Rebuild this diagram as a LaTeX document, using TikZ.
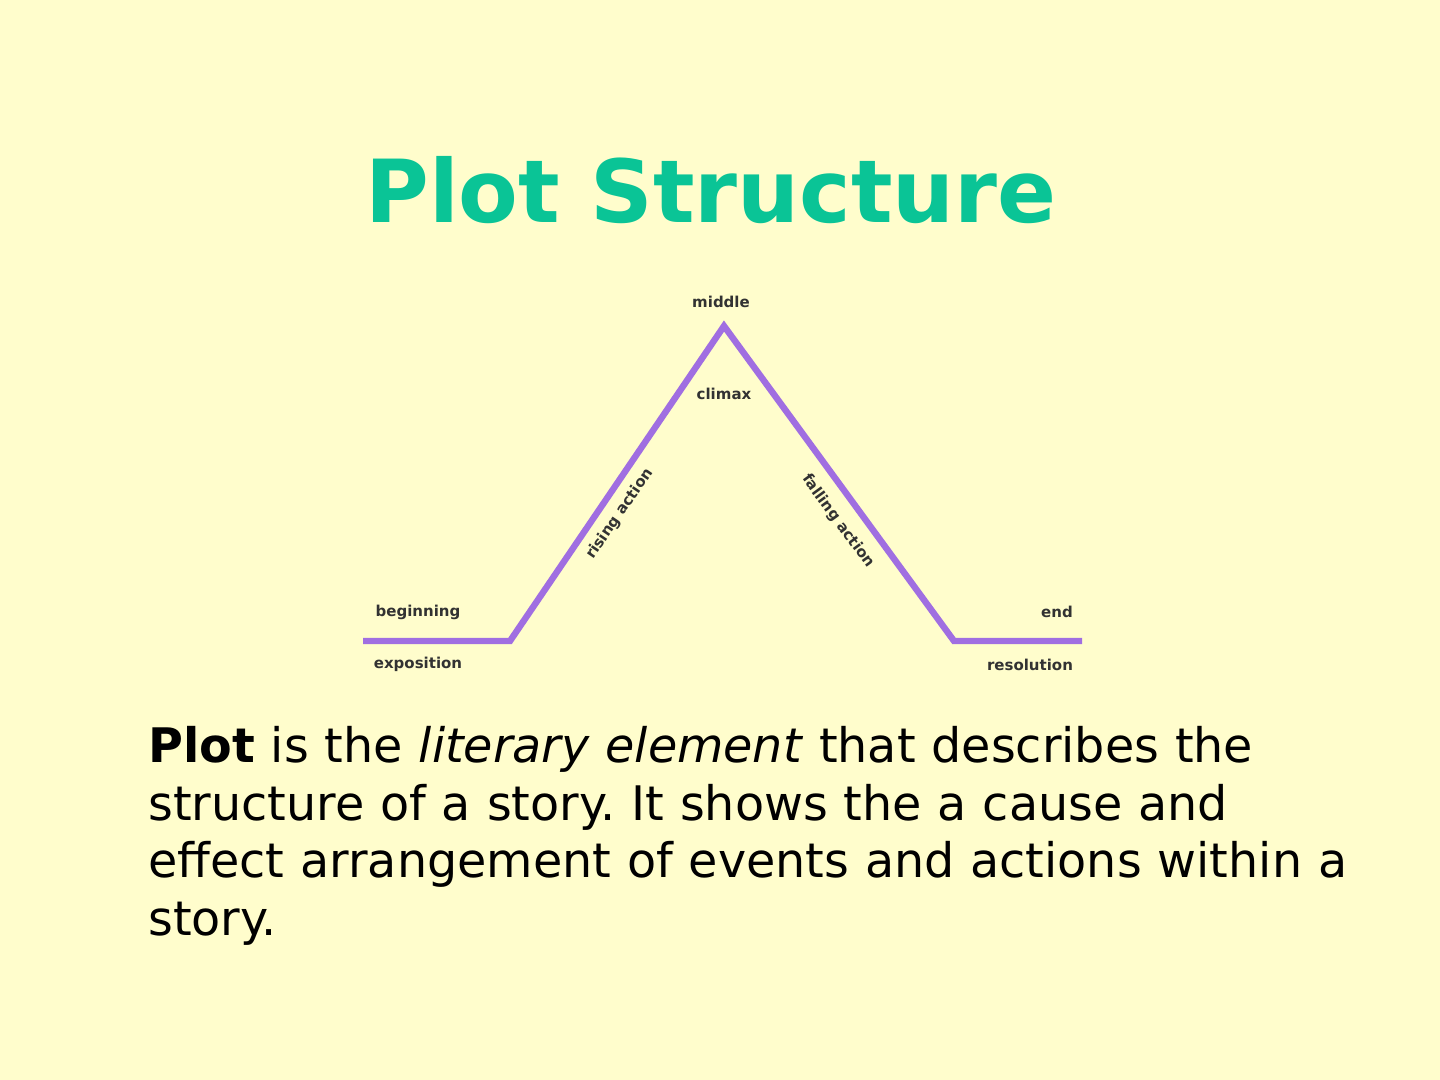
\documentclass[tikz,border=0pt]{standalone}
\usepackage{fontspec}
\setmainfont{DejaVu Sans}
\begin{document}
\frenchspacing
\begin{tikzpicture}[x=0.5pt,y=-0.5pt]
\definecolor{bg}{RGB}{255,253,204}
\definecolor{ttl}{RGB}{10,196,150}
\definecolor{plum}{RGB}{160,110,225}
\definecolor{lab}{RGB}{50,50,50}
\tikzset{lbl/.style={font=\fontsize{7.5}{9}\selectfont\bfseries, text=lab, inner sep=0pt}}
\fill[bg] (0,0) rectangle (1440,1080);
\useasboundingbox (0,0) rectangle (1440,1080);
\node[font=\fontsize{43.5}{50}\selectfont\bfseries, text=ttl, inner sep=0pt] (title) at (711,190) {Plot Structure};
\coordinate (a) at (363,641);
\coordinate (b) at (510,641);
\coordinate (c) at (724,326);
\coordinate (d) at (954,641);
\coordinate (e) at (1082,641);
\draw[plum, line width=3.2pt] (a) -- (b) -- (c) -- (d) -- (e);
\node[lbl] (mid) at (721,302) {middle};
\node[lbl] (clim) at (724,394) {climax};
\node[lbl, rotate=55.8] (rise) at (620,514) {rising action};
\node[lbl, rotate=-53.9] (fall) at (838,521) {falling action};
\node[lbl] (beg) at (418,612) {beginning};
\node[lbl] (expo) at (418,664) {exposition};
\node[lbl] (end) at (1057,612) {end};
\node[lbl] (reso) at (1030,665) {resolution};
\node[anchor=north west, align=left, text width=660pt, inner sep=0pt,
  font=\fontsize{23.8}{28.75}\selectfont] (body) at (148,726)
  {\textbf{Plot} is the \textit{literary element} that describes the\\
   structure of a story. It shows the a cause and\\
   effect arrangement of events and actions within a\\
   story.};
\end{tikzpicture}
\end{document}
